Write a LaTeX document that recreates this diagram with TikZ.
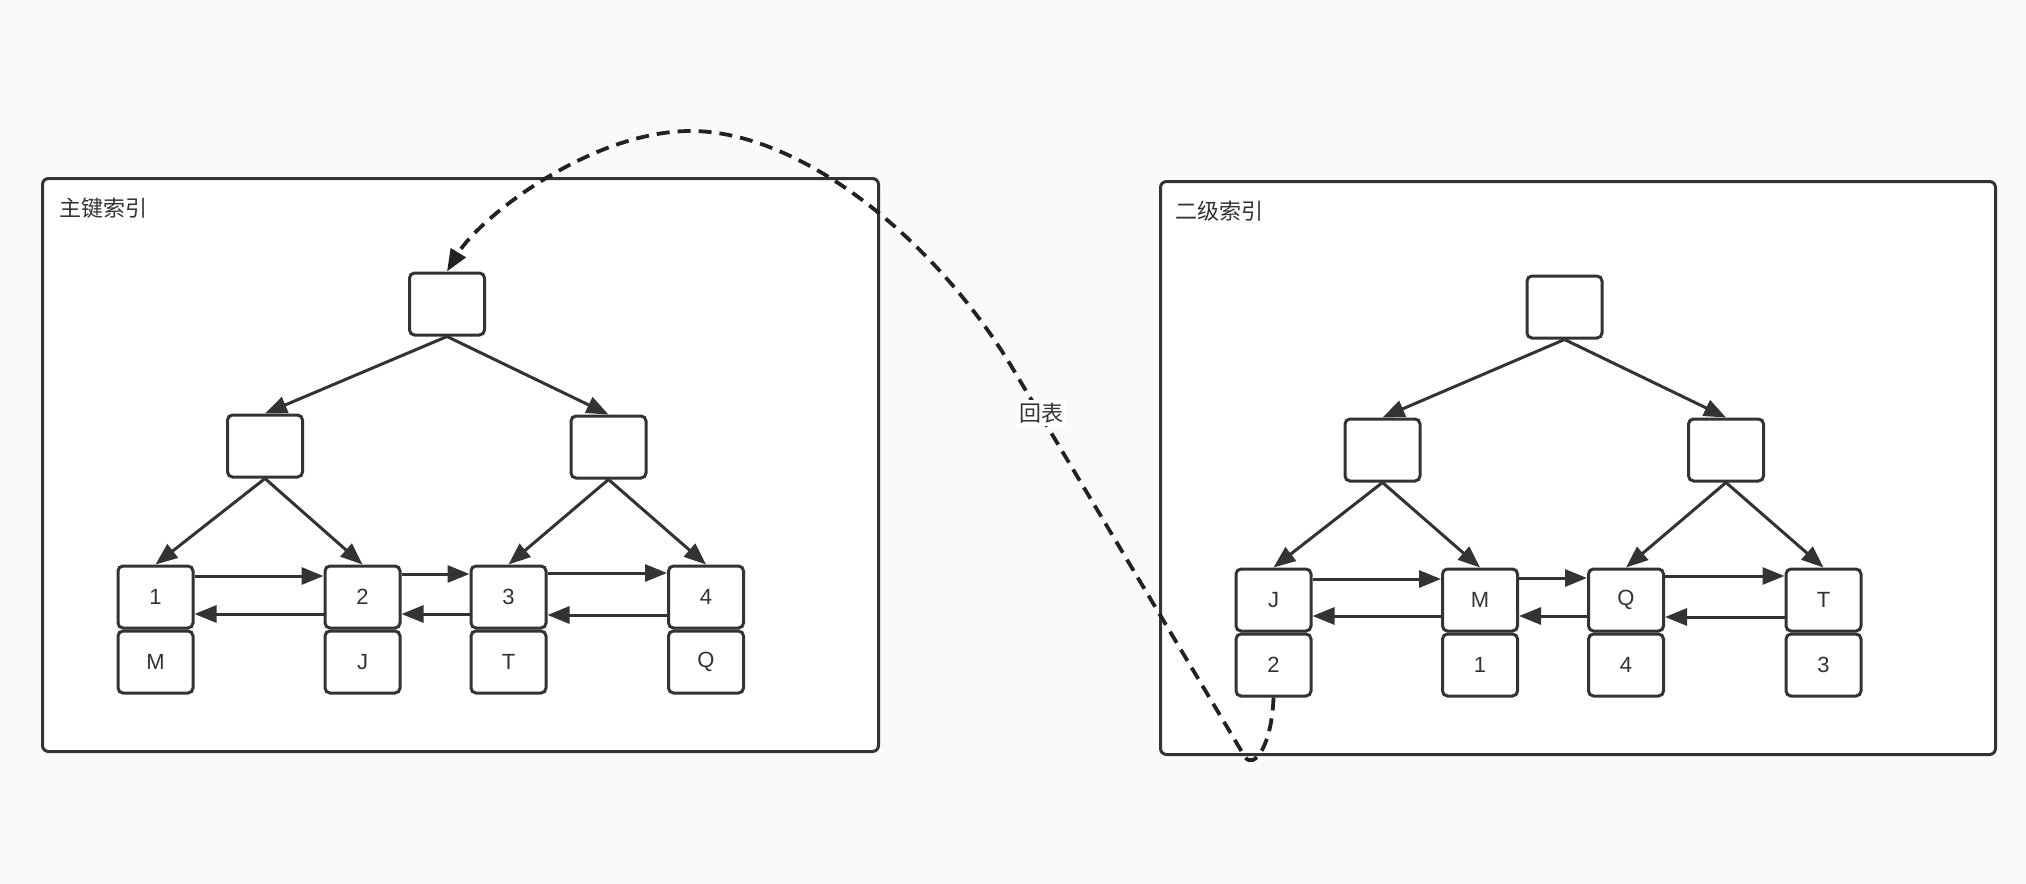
\documentclass[tikz,border=0pt]{standalone}
\usepackage{fontspec}
\setmainfont{Liberation Sans}
\newfontfamily\cjk{Noto Sans CJK SC}
\usetikzlibrary{arrows.meta,positioning}
\definecolor{ink}{HTML}{333333}
\definecolor{dashink}{HTML}{222222}
\definecolor{canvas}{HTML}{FAFAFA}

\begin{document}
\begin{tikzpicture}[x=0.5pt, y=-0.5pt, line width=1.5pt, color=ink,
		>={Triangle[length=11pt,width=8.5pt]},
		cell/.style={rectangle,draw,fill=white,rounded corners=2.5pt,minimum width=37.5pt,minimum height=31pt,inner sep=0pt,font=\fontsize{11}{13}\selectfont},
		panel/.style={draw,fill=white,rounded corners=3pt},
		title/.style={anchor=west,inner sep=0pt,font=\cjk\fontsize{11}{13}\selectfont},
		link/.style={->,line width=1.5pt},
		backref/.style={->,dashink,line width=1.9pt,dash pattern=on 6.5pt off 4pt}]
		\fill[canvas] (0,0) rectangle (2026,884);
		\useasboundingbox (0,0) rectangle (2026,884);

		\draw[panel] (42.5,178.5) rectangle (878.5,751.5);
		\draw[panel] (1160.5,181.5) rectangle (1995.5,754.5);
		\node[title] (pTitle) at (58,208) {主键索引};
		\node[title] (sTitle) at (1174,211) {二级索引};

		\node[cell] (pRoot) at (447,304) {};
		\node[cell] (pMidL) at (265,446) {};
		\node[cell] (pMidR) at (608.5,447) {};
		\node[cell] (p1) at (155.5,597) {1};
		\node[cell] (p2) at (362.5,597) {2};
		\node[cell] (p3) at (508.5,597) {3};
		\node[cell] (p4) at (706,597) {4};
		\node[cell,below=0pt of p1] (p1v) {M};
		\node[cell,below=0pt of p2] (p2v) {J};
		\node[cell,below=0pt of p3] (p3v) {T};
		\node[cell,below=0pt of p4] (p4v) {Q};

		\draw[link] (pRoot.south) -- (pMidL.north);
		\draw[link] (pRoot.south) -- (pMidR.north);
		\draw[link] (pMidL.south) -- (p1.north);
		\draw[link] (pMidL.south) -- (p2.north);
		\draw[link] (pMidR.south) -- (p3.north);
		\draw[link] (pMidR.south) -- (p4.north);
		\draw[link] ([yshift=10.5pt]p1.east) -- ([yshift=10.5pt]p2.west);
		\draw[link] ([yshift=-8.5pt]p2.west) -- ([yshift=-8.5pt]p1.east);
		\draw[link] ([yshift=11.5pt]p2.east) -- ([yshift=11.5pt]p3.west);
		\draw[link] ([yshift=-8.5pt]p3.west) -- ([yshift=-8.5pt]p2.east);
		\draw[link] ([yshift=12pt]p3.east) -- ([yshift=12pt]p4.west);
		\draw[link] ([yshift=-9pt]p4.west) -- ([yshift=-9pt]p3.east);

		\node[cell] (sRoot) at (1564.5,307) {};
		\node[cell] (sMidL) at (1382.5,450) {};
		\node[cell] (sMidR) at (1726,450) {};
		\node[cell] (sJ) at (1273.5,600) {J};
		\node[cell] (sM) at (1480,600) {M};
		\node[cell] (sQ) at (1626,600) {Q};
		\node[cell] (sT) at (1823.5,600) {T};
		\node[cell,below=0pt of sJ] (sJv) {2};
		\node[cell,below=0pt of sM] (sMv) {1};
		\node[cell,below=0pt of sQ] (sQv) {4};
		\node[cell,below=0pt of sT] (sTv) {3};

		\draw[link] (sRoot.south) -- (sMidL.north);
		\draw[link] (sRoot.south) -- (sMidR.north);
		\draw[link] (sMidL.south) -- (sJ.north);
		\draw[link] (sMidL.south) -- (sM.north);
		\draw[link] (sMidR.south) -- (sQ.north);
		\draw[link] (sMidR.south) -- (sT.north);
		\draw[link] ([yshift=10.5pt]sJ.east) -- ([yshift=10.5pt]sM.west);
		\draw[link] ([yshift=-8pt]sM.west) -- ([yshift=-8pt]sJ.east);
		\draw[link] ([yshift=11pt]sM.east) -- ([yshift=11pt]sQ.west);
		\draw[link] ([yshift=-8pt]sQ.west) -- ([yshift=-8pt]sM.east);
		\draw[link] ([yshift=12pt]sQ.east) -- ([yshift=12pt]sT.west);
		\draw[link] ([yshift=-8.5pt]sT.west) -- ([yshift=-8.5pt]sQ.east);

		\draw[backref] (sJv.south) .. controls (1272,745) and (1254,770) .. (1245,757)
			-- (1013,369) .. controls (936,240) and (801,131) .. (691,131)
			.. controls (591,131) and (480,217) .. (pRoot.north);
		\node[fill=white,inner sep=1.5pt,font=\cjk\fontsize{11}{13}\selectfont] (backLabel) at (1041,413) {回表};
\end{tikzpicture}
\end{document}
